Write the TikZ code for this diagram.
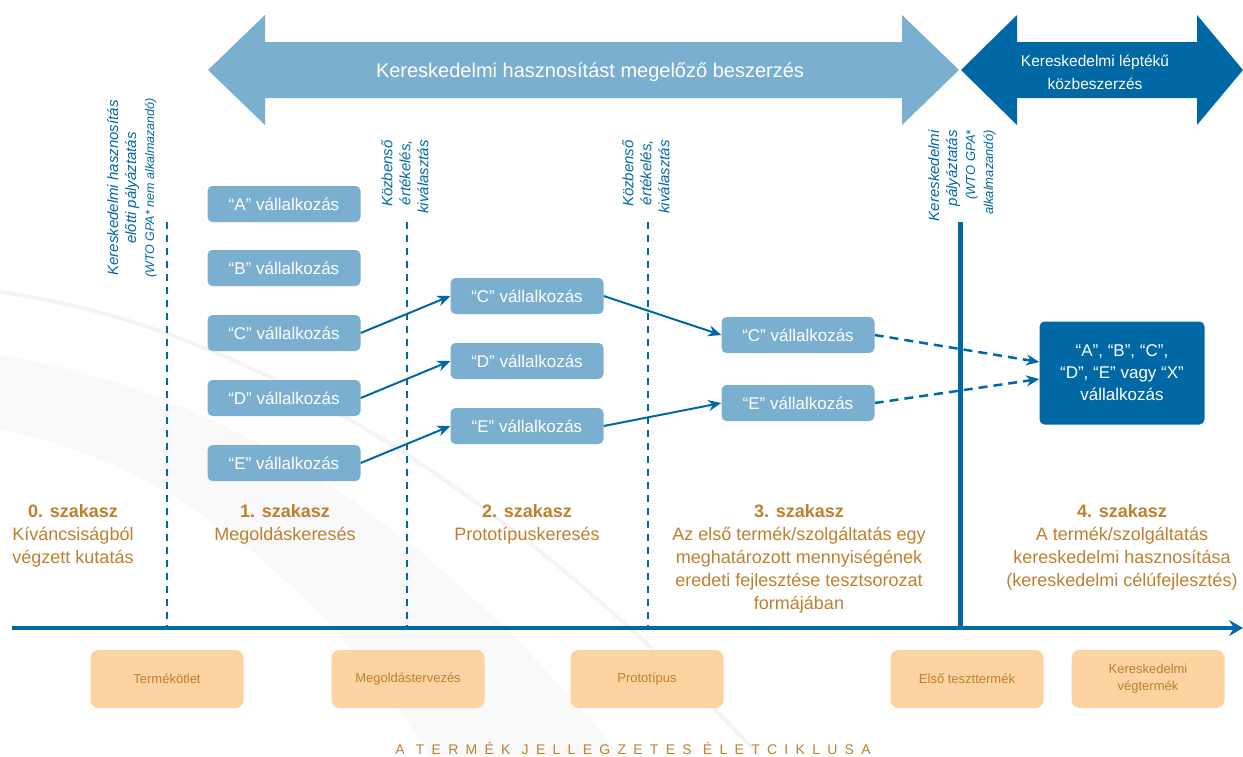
\documentclass[tikz,border=0pt]{standalone}
\usepackage{fontspec}
\setmainfont{Liberation Sans}
\usetikzlibrary{arrows.meta,positioning}
\definecolor{lightblue}{RGB}{123,175,208}
\definecolor{darkblue}{RGB}{0,104,165}
\definecolor{ochre}{RGB}{190,128,48}
\definecolor{peach}{RGB}{252,211,161}
\begin{document}
\begin{tikzpicture}[x=1pt,y=-1pt,
  firm/.style={fill=lightblue, rounded corners=5pt, minimum width=153pt, minimum height=36pt,
    inner sep=0pt, text=white, font=\fontsize{17}{19}\selectfont},
  product/.style={fill=peach, rounded corners=8pt, minimum width=153pt, minimum height=58pt,
    inner sep=0pt, align=center, text=ochre, font=\fontsize{13}{17}\selectfont},
  stage/.style={anchor=north, inner sep=0pt, align=center, text=ochre, font=\fontsize{18}{23}\selectfont},
  gate/.style={rotate=90, inner sep=0pt, text=darkblue, font=\fontsize{15}{18}\selectfont\itshape},
  link/.style={darkblue, line width=2pt, -{Stealth[length=13pt,width=11pt]}},
  hint/.style={link, line width=2.5pt, dash pattern=on 9pt off 6pt}]
  \newcommand\axisy{628}
  \newcommand\gatetop{222}
  \useasboundingbox (0,0) rectangle (1243,756);

  % background swooshes
  \fill[gray!5] (0,355) .. controls (220,390) and (430,520) .. (620,756)
    -- (430,756) .. controls (310,570) and (160,460) .. (0,430) -- cycle;
  \draw[gray!9, line width=4pt] (0,292) .. controls (220,322) and (480,460) .. (760,756);

  % procurement arrows
  \fill[lightblue] (208,70) -- (265,15) -- (265,42) -- (902,42) -- (902,15) -- (959,70)
    -- (902,125) -- (902,98) -- (265,98) -- (265,125) -- cycle;
  \fill[darkblue] (961,70) -- (1017,15) -- (1017,42) -- (1197,42) -- (1197,15) -- (1243,70)
    -- (1197,125) -- (1197,98) -- (1017,98) -- (1017,125) -- cycle;
  \node[text=white, font=\fontsize{20}{24}\selectfont] (pcp) at (590,72)
    {Kereskedelmi hasznosítást megelőző beszerzés};
  \node[text=white, align=center, font=\fontsize{15.5}{23}\selectfont] (ppi) at (1095,72)
    {Kereskedelmi léptékű\\közbeszerzés};

  % gates
  \node[gate, align=center] (g0) at (132,188)
    {Kereskedelmi hasznosítás\\előtti pályáztatás\\{\fontsize{12.5}{17}\selectfont(WTO GPA* nem alkalmazandó)}};
  \node[gate, align=right, anchor=east] (g1) at (405,140) {Közbenső\\értékelés,\\kiválasztás};
  \node[gate, align=right, anchor=east] (g2) at (646,140) {Közbenső\\értékelés,\\kiválasztás};
  \node[gate, align=right, anchor=east] (g3) at (962,130)
    {Kereskedelmi\\pályáztatás\\{\fontsize{13}{17}\selectfont(WTO GPA*}\\{\fontsize{13}{15}\selectfont alkalmazandó)}};
  \foreach \gx in {167,407,648}
    \draw[darkblue, line width=1.5pt, dash pattern=on 7pt off 6pt] (\gx,\gatetop) -- (\gx,\axisy);
  \draw[darkblue, line width=5pt] (960,\gatetop) -- (960,\axisy);

  % time line
  \coordinate (t0) at (12,\axisy);
  \coordinate (t1) at (1243,\axisy);
  \draw[darkblue, line width=4pt, -{Stealth[length=14pt,width=16pt,inset=5pt]}] (t0) -- (t1);

  % firms
  \node[firm] (a1) at (284,204) {“A” vállalkozás};
  \node[firm] (b1) at (284,268) {“B” vállalkozás};
  \node[firm] (c1) at (284,333) {“C” vállalkozás};
  \node[firm] (d1) at (284,398) {“D” vállalkozás};
  \node[firm] (e1) at (284,463) {“E” vállalkozás};
  \node[firm] (c2) at (527,296) {“C” vállalkozás};
  \node[firm] (d2) at (527,361) {“D” vállalkozás};
  \node[firm] (e2) at (527,426) {“E” vállalkozás};
  \node[firm] (c3) at (798,335) {“C” vállalkozás};
  \node[firm] (e3) at (798,403) {“E” vállalkozás};
  \node[firm, fill=darkblue, minimum width=165pt, minimum height=103pt, align=center,
    font=\fontsize{17}{22}\selectfont] (win) at (1122,373)
    {“A”, “B”, “C”,\\“D”, “E” vagy “X”\\vállalkozás};

  \draw[link] (c1.east) -- (c2.west);
  \draw[link] (d1.east) -- (d2.west);
  \draw[link] (e1.east) -- (e2.west);
  \draw[link] (c2.east) -- (c3.west);
  \draw[link] (e2.east) -- (e3.west);
  \draw[hint] (c3.east) -- ([yshift=11pt]win.west);
  \draw[hint] (e3.east) -- ([yshift=-6pt]win.west);

  % stages
  \node[stage] (s0) at (73,504) {\textbf{0. szakasz}\\Kíváncsiságból\\végzett kutatás};
  \node[stage] (s1) at (285,504) {\textbf{1. szakasz}\\Megoldáskeresés};
  \node[stage] (s2) at (527,504) {\textbf{2. szakasz}\\Prototípuskeresés};
  \node[stage] (s3) at (799,504) {\textbf{3. szakasz}\\Az első termék/szolgáltatás egy\\meghatározott mennyiségének\\eredeti fejlesztése tesztsorozat\\formájában};
  \node[stage] (s4) at (1122,504) {\textbf{4. szakasz}\\A termék/szolgáltatás\\kereskedelmi hasznosítása\\(kereskedelmi célúfejlesztés)};

  % products
  \node[product] (p0) at (167,679) {Termékötlet};
  \node[product] (p1) at (408,679) {Megoldástervezés};
  \node[product] (p2) at (647,679) {Prototípus};
  \node[product] (p3) at (967,679) {Első teszttermék};
  \node[product] (p4) at (1148,679) {Kereskedelmi\\végtermék};

  \node[text=ochre, font=\fontsize{14}{16}\selectfont] (life) at (633,748)
    {\addfontfeature{LetterSpace=52}A TERMÉK JELLEGZETES ÉLETCIKLUSA};
\end{tikzpicture}
\end{document}
